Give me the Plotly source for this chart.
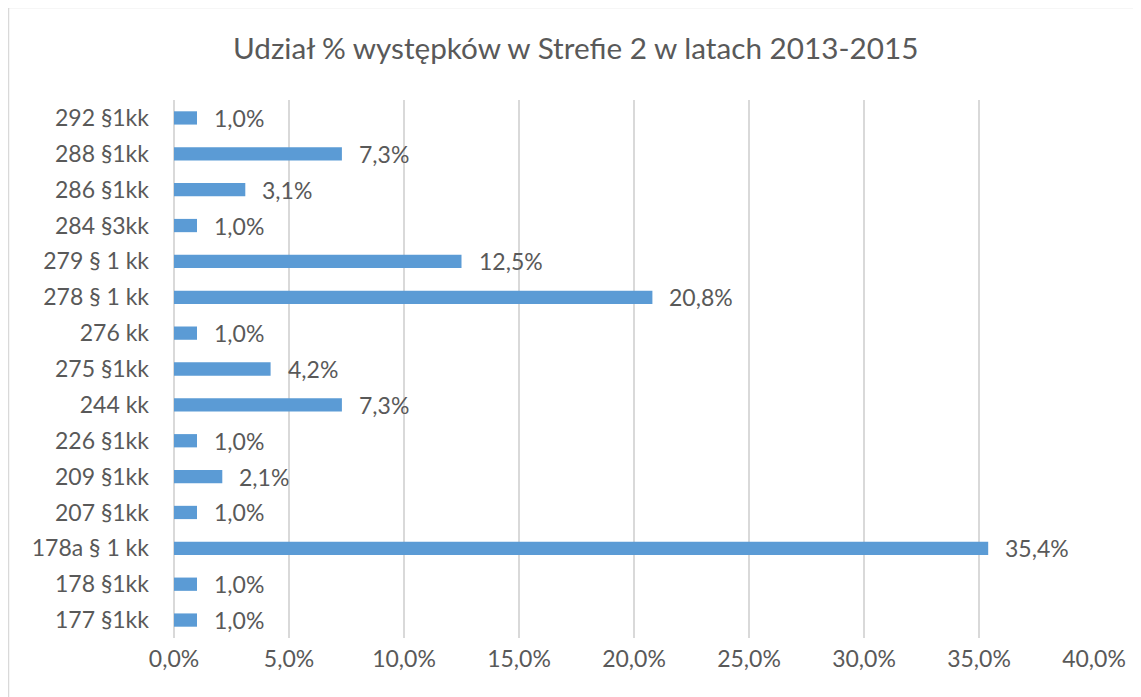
import plotly.graph_objects as go

categories = ["177 §1kk", "178 §1kk", "178a § 1 kk", "207 §1kk", "209 §1kk", "226 §1kk",
              "244 kk", "275 §1kk", "276 kk", "278 § 1 kk", "279 § 1 kk", "284 §3kk",
              "286 §1kk", "288 §1kk", "292 §1kk"]
values = [1.0, 1.0, 35.4, 1.0, 2.1, 1.0, 7.3, 4.2, 1.0, 20.8, 12.5, 1.0, 3.1, 7.3, 1.0]
x_ticks = [0, 5, 10, 15, 20, 25, 30, 35, 40]
title = "Udział % występków w Strefie 2 w latach 2013-2015"

FONT = "Lato"
TXT = "#595959"
OFF = 8  # page body margin
W, H = 1141 - OFF, 697 - OFF
L, R, T, B = 174 - OFF, 47, 100 - OFF, 59
pw, ph = W - L - R, H - T - B
LBL = 23
TTL = 29.7

def px_x(p):
    return (p - OFF - L) / pw

def px_y(p):
    return (H - B - (p - OFF)) / ph

def fmt(v):
    return f"{v:.1f}%".replace(".", ",")

labels = [fmt(v) for v in values]
tick_text = [fmt(v) for v in x_ticks]

fig = go.Figure()
fig.add_trace(go.Bar(
    x=values, y=categories, orientation="h",
    marker=dict(color="#5B9BD5", line=dict(width=0)),
    width=0.37, hoverinfo="skip",
))

annotations = [dict(x=v, y=c, text=t, xref="x", yref="y", xanchor="left", yanchor="middle",
                    xshift=15, showarrow=False, font=dict(family=FONT, size=LBL, color=TXT))
               for v, c, t in zip(values, categories, labels)]
annotations.append(dict(x=px_x(575), y=px_y(48), xref="paper", yref="paper", text=title,
                        showarrow=False, xanchor="center", yanchor="middle",
                        font=dict(family=FONT, size=TTL, color=TXT)))

fig.update_layout(
    width=W, height=H,
    margin=dict(l=L, r=R, t=T, b=B, pad=0),
    paper_bgcolor="white", plot_bgcolor="white",
    showlegend=False,
    font=dict(family=FONT, size=LBL, color=TXT),
    annotations=annotations,
    shapes=[dict(type="rect", xref="paper", yref="paper",
                 x0=px_x(8.5), x1=px_x(1170), y0=px_y(730), y1=px_y(7.5),
                 line=dict(color="#D9D9D9", width=1.5), layer="below")],
    xaxis=dict(range=[0, 40], tickvals=x_ticks, ticktext=tick_text,
               showgrid=True, gridcolor="#D9D9D9", gridwidth=1.5,
               zeroline=True, zerolinecolor="#D9D9D9", zerolinewidth=1.5,
               showline=False, ticks="", ticklabelstandoff=5,
               tickfont=dict(family=FONT, size=LBL, color=TXT), fixedrange=True),
    yaxis=dict(categoryorder="array", categoryarray=categories, showgrid=False,
               zeroline=False, showline=False, ticks="", ticklabelstandoff=24,
               tickfont=dict(family=FONT, size=LBL, color=TXT), fixedrange=True),
)

fig.write_html("out.html")
